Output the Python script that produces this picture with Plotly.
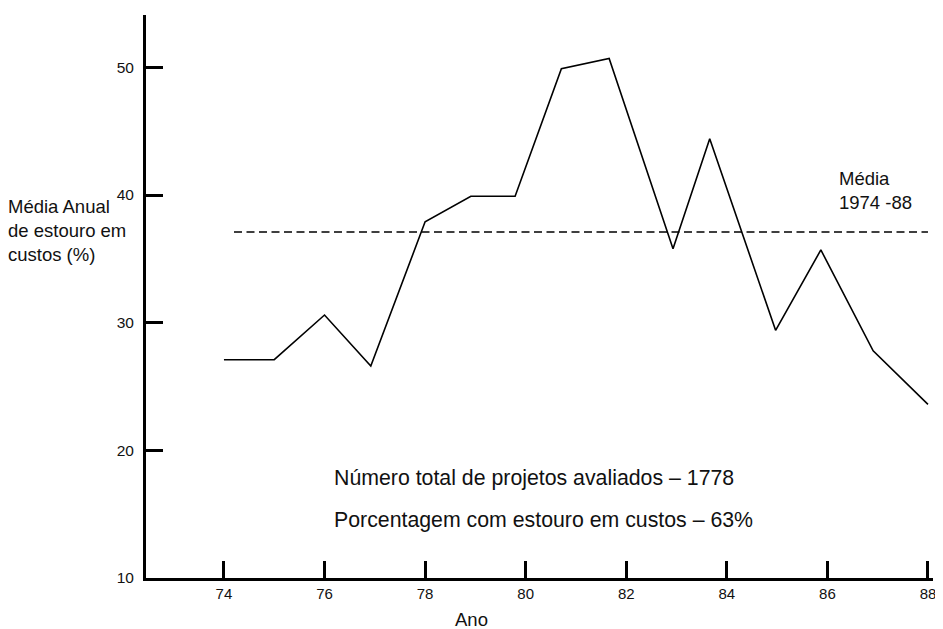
import plotly.graph_objects as go

# Data
anos = [74.0, 75.0, 76.0, 76.92, 78.0, 78.91, 79.79, 80.71, 81.66, 82.35, 82.93, 83.66, 84.97, 85.87, 86.91, 88.0]
estouro = [27.1, 27.1, 30.6, 26.6, 37.9, 39.9, 39.9, 49.9, 50.7, 42.6, 35.8, 44.4, 29.4, 35.7, 27.8, 23.6]
media_anos = [74.2, 88.0]
media_valor = [37.1, 37.1]
x_ticks = [74, 76, 78, 80, 82, 84, 86, 88]
y_ticks = [10, 20, 30, 40, 50]

FONT = "Liberation Sans, Arial, sans-serif"

fig = go.Figure()
fig.add_trace(go.Scatter(x=media_anos, y=media_valor, mode="lines",
                         line=dict(color="black", width=1.5, dash="8px,4.5px"),
                         showlegend=False, hoverinfo="skip"))
fig.add_trace(go.Scatter(x=anos, y=estouro, mode="lines",
                         line=dict(color="black", width=1.6),
                         showlegend=False))

fig.update_layout(
    width=935, height=621,
    margin=dict(l=138, r=10, t=7, b=51),
    paper_bgcolor="white", plot_bgcolor="white",
    font=dict(family=FONT, color="black"),
    xaxis=dict(range=[72.45, 88.1], tickvals=x_ticks, ticktext=[str(v) for v in x_ticks],
               showgrid=False, zeroline=False, showline=True, linecolor="black", linewidth=3,
               ticks="inside", ticklen=17, tickwidth=3, tickcolor="black",
               tickfont=dict(size=15, color="#111"), ticklabelstandoff=0),
    yaxis=dict(range=[10, 54.1], tickvals=y_ticks, ticktext=[str(v) for v in y_ticks],
               showgrid=False, zeroline=False, showline=True, linecolor="black", linewidth=3,
               ticks="inside", ticklen=17, tickwidth=3, tickcolor="black",
               tickfont=dict(size=15.5, color="#111"), ticklabelstandoff=6),
)

ann_font = dict(family=FONT, size=18.5, color="#111")
fig.add_annotation(text="Média Anual<br>de estouro em<br>custos (%)", xref="paper", yref="paper",
                   x=-0.178, y=0.618, xanchor="left", yanchor="middle", align="left",
                   showarrow=False, font=ann_font)
fig.add_annotation(text="Ano", xref="paper", yref="paper", x=0.413, y=-0.073,
                   xanchor="center", yanchor="middle", showarrow=False, font=ann_font)
fig.add_annotation(text="Média<br>1974 -88", x=86.2, y=40.35, xanchor="left", yanchor="middle",
                   align="left", showarrow=False, font=ann_font)
fig.add_annotation(text="Número total de projetos avaliados – 1778", x=76.15, y=17.83,
                   xanchor="left", yanchor="middle", showarrow=False,
                   font=dict(family=FONT, size=21.3, color="#111"))
fig.add_annotation(text="Porcentagem com estouro em custos – 63%", x=76.15, y=14.54,
                   xanchor="left", yanchor="middle", showarrow=False,
                   font=dict(family=FONT, size=21.3, color="#111"))

fig.write_html("out.html")
